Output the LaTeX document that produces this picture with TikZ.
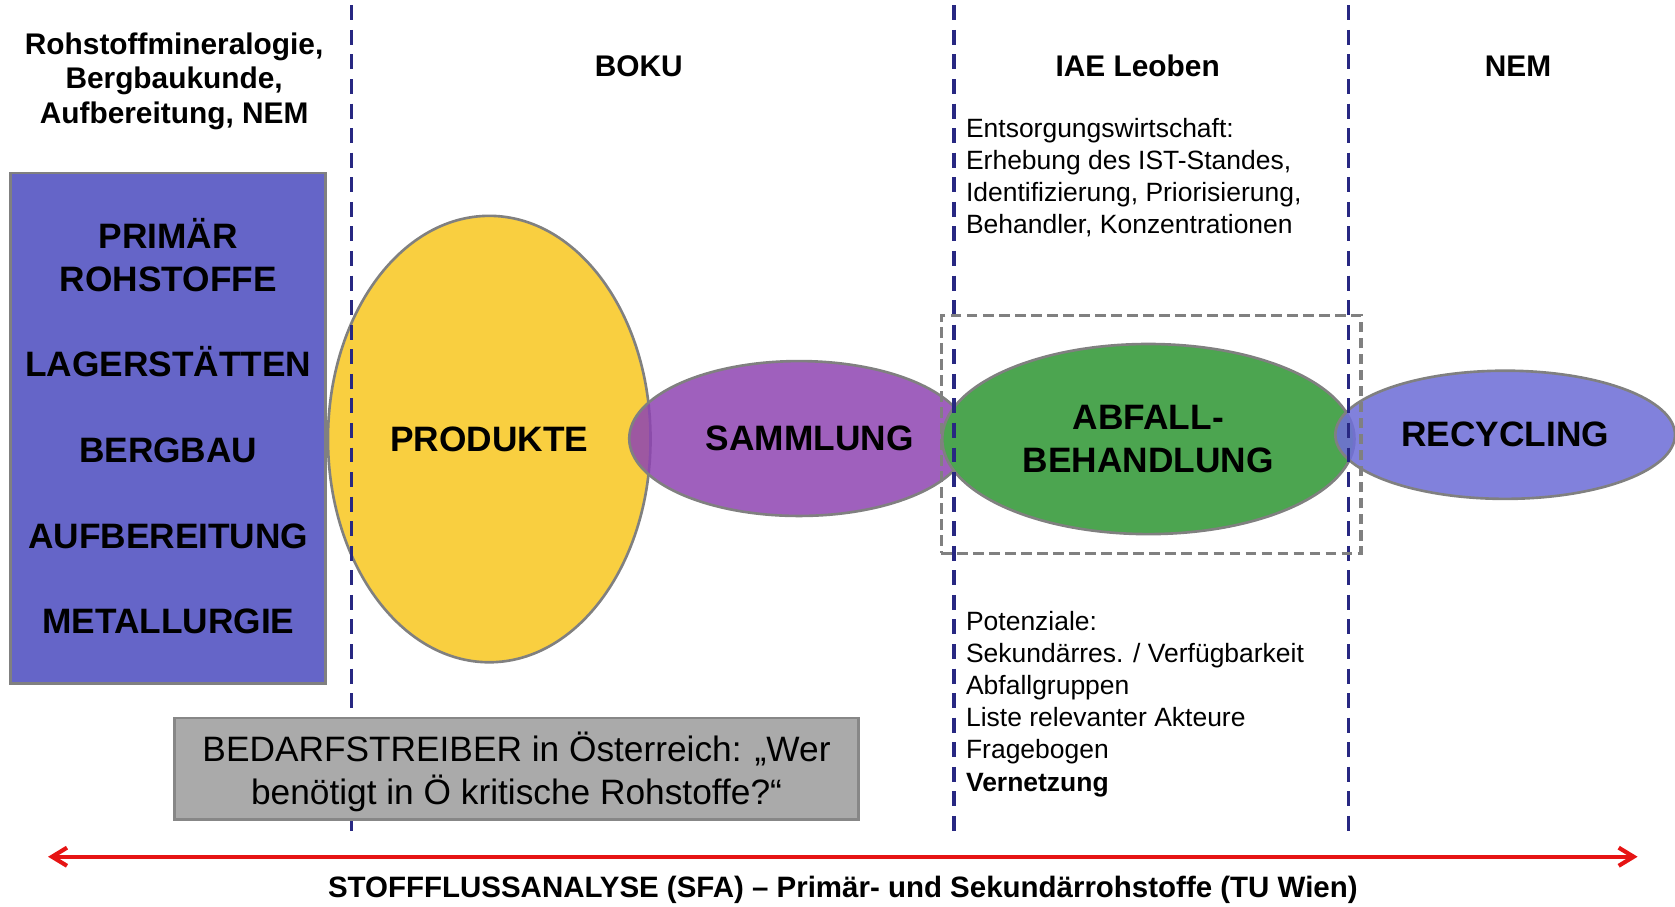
\documentclass[tikz,border=0pt]{standalone}
\usepackage{fontspec}
\setmainfont{Liberation Sans}
\usetikzlibrary{%
  arrows.meta,%
  shapes.geometric,% wg. ellipse
  positioning%
}

\definecolor{rohblue}{RGB}{101,101,200}
\definecolor{prodyellow}{RGB}{249,207,64}
\definecolor{sammviolet}{RGB}{142,68,178}
\definecolor{abfgreen}{RGB}{76,165,80}
\definecolor{recblue}{RGB}{112,112,215}
\definecolor{divnavy}{RGB}{40,40,130}
\definecolor{framegray}{RGB}{128,128,128}
\definecolor{boxgray}{RGB}{170,170,170}
\definecolor{sfared}{RGB}{230,20,20}

\tikzset{
  ell/.style={ellipse, draw=framegray, line width=1.4pt, inner sep=0pt},
  divline/.style={divnavy, line width=1.7pt, dash pattern=on 0.28cm off 0.18cm},
  capsfont/.style={font=\fontsize{18.8}{22.8}\selectfont\bfseries, align=center},
  headfont/.style={font=\fontsize{15.9}{18.2}\selectfont\bfseries, align=center},
  notefont/.style={font=\fontsize{14.1}{17.1}\selectfont, align=left,
    anchor=west, inner sep=0pt}
}

\begin{document}
\begin{tikzpicture}[x=0.02cm, y=-0.02cm, line cap=butt]

\useasboundingbox (0,0) rectangle (1568,849);

% Kopfzeile
\node[headfont] (hdrroh) at (163,76)
  {Rohstoffmineralogie,\\Bergbaukunde,\\Aufbereitung, NEM};
\node[headfont] (hdrboku) at (598,62) {BOKU};
\node[headfont] (hdriae) at (1065,62) {IAE Leoben};
\node[headfont] (hdrnem) at (1421,62) {NEM};

% Primaerrohstoffe
\node[draw=framegray, fill=rohblue, line width=1.4pt,
  minimum width=5.9cm, minimum height=9.56cm, capsfont] (primaer) at (157.5,401)
  {};
\node[capsfont] (primtext) at (157.5,399)
  {PRIM\"AR\\ROHSTOFFE\\[22.8pt]LAGERST\"ATTEN\\[22.8pt]BERGBAU\\[22.8pt]AUFBEREITUNG\\[22.8pt]METALLURGIE};

% Kette
\node[ell, fill=prodyellow, minimum width=6.04cm, minimum height=8.36cm,
  capsfont] (produkte) at (458,411) {PRODUKTE};
\node[ell, fill=sammviolet, fill opacity=0.85, text opacity=1,
  minimum width=6.36cm, minimum height=2.9cm, capsfont] (sammlung) at (748,410.5)
  {\hspace*{0.4cm}SAMMLUNG};
\node[ell, fill=abfgreen, minimum width=7.72cm, minimum height=3.56cm,
  capsfont] (abfall) at (1075,411) {ABFALL-\\BEHANDLUNG};
\node[ell, fill=recblue, fill opacity=0.88, text opacity=1,
  minimum width=6.36cm, minimum height=2.4cm, capsfont] (recycling) at (1409,407)
  {RECYCLING};

% Trennlinien
\foreach \x/\n in {329/a,893/b,1262/c} {
  \coordinate (top\n) at (\x,5);
  \coordinate (bot\n) at (\x,785);
  \draw[divline] (top\n) -- (bot\n);
}

\node[draw=framegray, line width=1.7pt, dash pattern=on 0.2cm off 0.1cm,
  minimum width=7.86cm, minimum height=4.46cm] (abfframe) at (1077.5,406.5) {};

% Texte IAE
\node[notefont] (ist) at (904,166)
  {Entsorgungswirtschaft:\\Erhebung des IST-Standes,\\Identifizierung, Priorisierung,\\Behandler, Konzentrationen};
\node[notefont] (potenz) at (904,659)
  {Potenziale:\\Sekund\"arres. / Verf\"ugbarkeit\\Abfallgruppen\\Liste relevanter Akteure\\Fragebogen\\\textbf{Vernetzung}};

% Bedarfstreiber
\node[draw={rgb,255:red,135;green,135;blue,135}, fill=boxgray, line width=1.4pt,
  minimum width=12.82cm, minimum height=1.9cm, align=center,
  font=\fontsize{18.8}{22.8}\selectfont] (bedarf) at (483.5,719.5) {};
\node[align=center, font=\fontsize{18.8}{22.8}\selectfont] (bedarftext) at (483.5,722.5)
  {BEDARFSTREIBER in \"Osterreich: „Wer\\ben\"otigt in \"O kritische Rohstoffe?“};

% SFA
\coordinate (sfal) at (45,802);
\coordinate (sfar) at (1533,802);
\draw[sfared, line width=2.2pt,
  {Straight Barb[length=0.28cm, width=0.34cm]}-{Straight Barb[length=0.28cm, width=0.34cm]}]
  (sfal) -- (sfar);
\node[font=\fontsize{15.7}{18}\selectfont\bfseries] (sfa) at (789,833)
  {STOFFFLUSSANALYSE (SFA) – Prim\"ar- und Sekund\"arrohstoffe (TU Wien)};

\end{tikzpicture}
\end{document}
